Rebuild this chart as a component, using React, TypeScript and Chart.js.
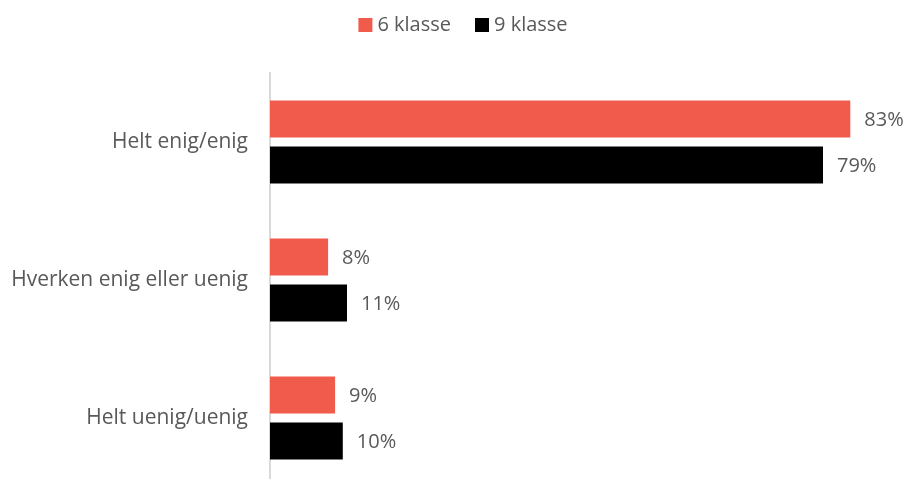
import React, { useEffect, useRef } from "react";
import { Chart, registerables } from "chart.js";

Chart.register(...registerables);

const categories = ["Helt enig/enig", "Hverken enig eller uenig", "Helt uenig/uenig"];
const seriesNames = ["6 klasse", "9 klasse"];
const values6 = [82.9, 8.3, 9.3];
const values9 = [79, 11, 10.4];
const labels6 = ["83%", "8%", "9%"];
const labels9 = ["79%", "11%", "10%"];
const colors = ["#F15B4C", "#000000"];

const FONT = "'Open Sans', sans-serif";
const TEXT = "#595959";

const valueLabelPlugin = {
  id: "valueLabels",
  afterDatasetsDraw(chart: any) {
    const ctx = chart.ctx;
    const all = [labels6, labels9];
    ctx.save();
    ctx.font = `20px ${FONT}`;
    ctx.fillStyle = TEXT;
    ctx.textAlign = "left";
    ctx.textBaseline = "middle";
    chart.data.datasets.forEach((_ds: any, di: number) => {
      const meta = chart.getDatasetMeta(di);
      meta.data.forEach((el: any, i: number) => {
        ctx.fillText(all[di][i], el.x + 14, el.y + 1);
      });
    });
    ctx.restore();
  },
};

const legendPlugin = {
  id: "customLegend",
  afterDraw(chart: any) {
    const ctx = chart.ctx;
    ctx.save();
    ctx.font = `20px ${FONT}`;
    const box = 14;
    const gapText = 5;
    const gapItem = 24;
    const widths = seriesNames.map((n) => ctx.measureText(n).width);
    const total = widths.reduce((a, w) => a + box + gapText + w, 0) + gapItem * (seriesNames.length - 1);
    let x = 463 - total / 2;
    const cy = 25;
    seriesNames.forEach((n, i) => {
      ctx.fillStyle = colors[i];
      ctx.fillRect(x, cy - box / 2, box, box);
      x += box + gapText;
      ctx.fillStyle = TEXT;
      ctx.textAlign = "left";
      ctx.textBaseline = "middle";
      ctx.fillText(n, x, cy);
      x += widths[i] + gapItem;
    });
    ctx.restore();
  },
};

export default function App() {
  const ref = useRef<HTMLCanvasElement>(null);
  useEffect(() => {
    if (!ref.current) return;
    const chart = new Chart(ref.current, {
      type: "bar",
      data: {
        labels: categories,
        datasets: [
          { label: seriesNames[0], data: values6, backgroundColor: colors[0] },
          { label: seriesNames[1], data: values9, backgroundColor: colors[1] },
        ],
      },
      options: {
        indexAxis: "y",
        animation: false,
        responsive: false,
        maintainAspectRatio: false,
        categoryPercentage: 0.667,
        barPercentage: 0.804,
        layout: { padding: { top: 73, right: 7, bottom: 0, left: 0 } },
        plugins: {
          legend: { display: false },
          tooltip: { enabled: false },
        },
        scales: {
          x: { display: false, min: 0, max: 90 },
          y: {
            afterFit(scale: any) {
              scale.width = 270;
              scale.paddingTop = 0;
              scale.paddingBottom = 0;
            },
            grid: { display: false, drawTicks: false },
            border: { display: true, color: "#D9D9D9", width: 2 },
            ticks: {
              padding: 22,
              color: TEXT,
              font: { family: FONT, size: 21 },
            },
          },
        },
      } as any,
      plugins: [valueLabelPlugin, legendPlugin],
    });
    return () => chart.destroy();
  }, []);
  return (
    <div style={{ position: "fixed", left: 0, top: 0, width: 907, height: 487 }}>
      <canvas ref={ref} width={907} height={487} style={{ display: "block", width: 907, height: 487 }} />
    </div>
  );
}
